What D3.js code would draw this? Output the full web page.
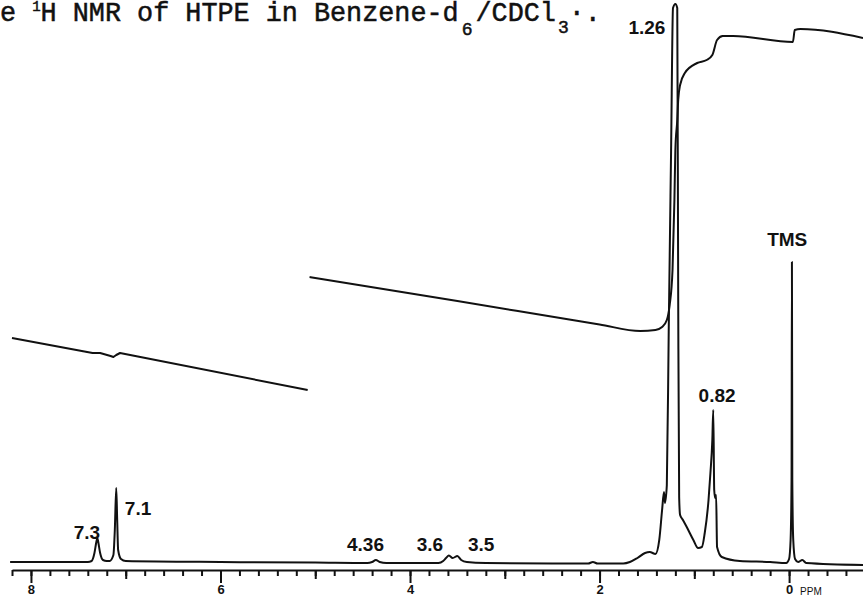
<!DOCTYPE html>
<html>
<head>
<meta charset="utf-8">
<script src="https://cdn.jsdelivr.net/npm/d3@7"></script>
<style>
  html, body { margin: 0; padding: 0; background: #fff; }
  svg { display: block; }
</style>
</head>
<body>
<svg id="chart" width="863" height="601"></svg>
<script>
// ---- Data (ppm, signal height) ----
const spectrum = [
  [8.22, 2], [7.40, 2], [7.36, 3], [7.33, 11], [7.31, 22], [7.30, 26], [7.29, 22],
  [7.27, 11], [7.24, 4], [7.20, 3], [7.17, 3], [7.13, 9], [7.115, 34], [7.10, 76],
  [7.09, 44], [7.08, 14], [7.05, 5], [7.00, 3], [6.00, 2], [5.00, 1.5], [4.45, 1],
  [4.40, 2], [4.36, 4], [4.32, 2], [4.25, 1], [3.70, 1], [3.65, 3], [3.62, 6],
  [3.59, 8.5], [3.55, 6], [3.50, 8], [3.46, 4], [3.40, 2], [3.20, 1], [2.50, 0.5],
  [2.12, 0.5], [2.07, 2], [2.02, 0.5], [1.75, 0.5], [1.68, 2], [1.60, 6], [1.52, 11],
  [1.47, 12], [1.41, 10], [1.37, 24], [1.34, 54], [1.32, 72], [1.31, 61], [1.29, 79],
  [1.27, 234], [1.245, 414], [1.225, 556], [1.20, 560], [1.18, 556], [1.17, 264],
  [1.16, 67], [1.15, 49], [1.12, 44], [1.08, 37], [1.01, 24], [0.96, 16], [0.92, 17],
  [0.89, 31], [0.85, 64], [0.83, 91], [0.81, 124], [0.80, 154], [0.79, 74], [0.78, 66],
  [0.77, 69], [0.76, 17], [0.71, 7], [0.52, 3], [0.20, 2], [0.03, 1], [0.00, 5],
  [-0.016, 24], [-0.026, 84], [-0.03, 302], [-0.034, 84], [-0.044, 24], [-0.063, 5],
  [-0.095, 2], [-0.14, 4], [-0.18, 1], [-0.78, -1]
];

// integral trace, two pen segments (ppm, integral height)
const integralSeg1 = [
  [8.20, 226], [7.35, 211], [7.27, 211], [7.16, 208], [7.13, 207], [7.10, 209],
  [7.06, 211], [5.08, 174]
];
const integralSeg2 = [
  [5.06, 287], [3.50, 263], [2.00, 239.5], [1.57, 233], [1.41, 234], [1.34, 237],
  [1.29, 244], [1.26, 259], [1.23, 294], [1.21, 364], [1.20, 414], [1.18, 444],
  [1.17, 464], [1.15, 479], [1.10, 491], [0.97, 501], [0.87, 504], [0.81, 509],
  [0.76, 524], [0.70, 528], [0.59, 528], [-0.04, 522], [-0.06, 534], [-0.12, 535],
  [-0.78, 526]
];

const peakLabels = ["7.3", "7.1", "4.36", "3.6", "3.5", "1.26", "0.82", "TMS"];
const peakLabelPpm = [7.41, 6.87, 4.47, 3.79, 3.25, 1.50, 0.76, 0.02];
const peakLabelHeight = [25, 49, 13, 13, 13, 530, 162, 318];

const minorTicks = d3.range(-3, 42).map(i => i / 5);   // every 0.2 ppm
const mediumTicks = [7, 5, 3, 1];
const majorTicks = [8, 6, 4, 2, 0];
const tickLabels = ["8", "6", "4", "2", "0"];

// ---- Drawing ----
const svg = d3.select("#chart");

const x = d3.scaleLinear().domain([8.2, -0.78]).range([12, 863]);
const y = d3.scaleLinear().domain([0, 564]).range([564, 0]);

// title
const title = svg.append("text")
  .attr("x", 0).attr("y", 21)
  .attr("font-family", "'Liberation Mono', 'DejaVu Sans Mono', monospace")
  .attr("font-size", 26.8)
  .attr("fill", "#111")
  .attr("stroke", "#111").attr("stroke-width", 0.5);
title.append("tspan").text("e ");
title.append("tspan").attr("font-size", 14).attr("dy", -10).text("1");
title.append("tspan").attr("dy", 10).text("H NMR of HTPE in Benzene-d");
title.append("tspan").attr("font-size", 18).attr("dy", 14).attr("dx", 3).text("6");
title.append("tspan").attr("dy", -14).attr("dx", 3).text("/CDCl");
title.append("tspan").attr("font-size", 18).attr("dy", 12).attr("dx", 2).text("3");
title.append("tspan").attr("dy", -12).text("\u00b7.");

// axes
const gAxis = svg.append("g").attr("transform", "translate(0,570)");
const axisMinor = d3.axisBottom(x).tickValues(minorTicks).tickSize(6).tickSizeOuter(0).tickFormat("");
gAxis.append("g").call(axisMinor);
const axisMed = d3.axisBottom(x).tickValues(mediumTicks).tickSize(9).tickSizeOuter(0).tickFormat("");
gAxis.append("g").call(axisMed).select(".domain").remove();
const axisMajor = d3.axisBottom(x).tickValues(majorTicks).tickSize(13).tickSizeOuter(0)
  .tickFormat((d, i) => tickLabels[i]);
const gMaj = gAxis.append("g").call(axisMajor);
gMaj.select(".domain").remove();
gMaj.selectAll("text")
  .attr("y", 15).attr("dy", "0.71em")
  .attr("font-family", "'Liberation Sans', Arial, sans-serif")
  .attr("font-weight", "bold").attr("font-size", 13).attr("fill", "#111");
gAxis.selectAll("path.domain").attr("stroke", "#111").attr("stroke-width", 2);
gAxis.selectAll(".tick line").attr("stroke", "#111").attr("stroke-width", 2);

gAxis.append("text")
  .attr("x", x(0) + 11).attr("y", 25)
  .attr("font-family", "'Liberation Sans', Arial, sans-serif")
  .attr("font-size", 10).attr("fill", "#111")
  .text("PPM");

// spectrum trace
const line = d3.line()
  .x(d => x(d[0]))
  .y(d => y(d[1]))
  .curve(d3.curveMonotoneX);
const straight = d3.line()
  .x(d => x(d[0]))
  .y(d => y(d[1]));

svg.append("path").datum(spectrum)
  .attr("d", line)
  .attr("fill", "none").attr("stroke", "#111").attr("stroke-width", 2)
  .attr("stroke-linejoin", "round");

svg.append("path").datum(integralSeg1)
  .attr("d", straight)
  .attr("fill", "none").attr("stroke", "#111").attr("stroke-width", 2)
  .attr("stroke-linejoin", "round");
svg.append("path").datum(integralSeg2)
  .attr("d", line)
  .attr("fill", "none").attr("stroke", "#111").attr("stroke-width", 2)
  .attr("stroke-linejoin", "round");

// peak labels
svg.append("g").selectAll("text")
  .data(peakLabels)
  .join("text")
  .attr("x", (d, i) => x(peakLabelPpm[i]))
  .attr("y", (d, i) => y(peakLabelHeight[i]))
  .attr("text-anchor", "middle")
  .attr("font-family", "'Liberation Sans', Arial, sans-serif")
  .attr("font-weight", "bold")
  .attr("font-size", 19)
  .attr("fill", "#111")
  .text(d => d);
</script>
</body>
</html>
